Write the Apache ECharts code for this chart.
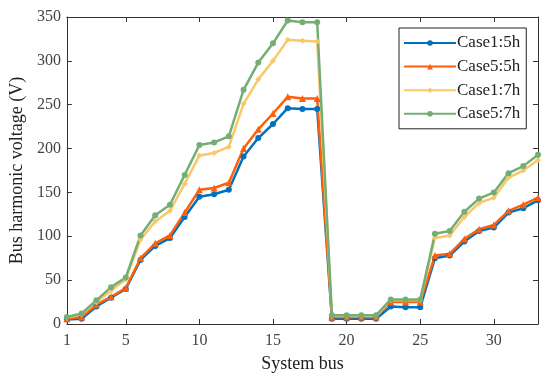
<!DOCTYPE html>
<html><head><meta charset="utf-8">
<script src="https://cdn.jsdelivr.net/npm/echarts@6/dist/echarts.min.js"></script>
<style>html,body{margin:0;padding:0;background:#fff}#c{width:550px;height:383px}</style>
</head><body><div id="c"></div>
<script>
const buses = [1,2,3,4,5,6,7,8,9,10,11,12,13,14,15,16,17,18,19,20,21,22,23,24,25,26,27,28,29,30,31,32,33];
const case1_5h = [5,6,20,30,40,73,89,98,122,145,148,153,191,212,228,246,245,245,6,6,6,6,20,19,19,75,78,94,106,110,127,132,141];
const case5_5h = [6,8,22,31,41,75,92,101,127,153,155,161,200,222,240,259,257,257,8,8,8,8,25,25,25,78,80,97,108,113,129,136,144];
const case1_7h = [7,11,25,38,51,96,117,129,160,192,195,202,251,279,300,324,323,322,9,9,9,9,27,27,27,98,101,122,138,144,167,175,187];
const case5_7h = [8,12,27,42,53,101,124,136,170,204,207,214,267,298,320,346,344,344,10,10,10,10,28,28,28,103,106,128,143,150,172,180,193];
const xTicks = [1,5,10,15,20,25,30];
const names = ['Case1:5h','Case5:5h','Case1:7h','Case5:7h'];

const font = 'Liberation Serif';
const colors = ['#0072BD','#FF5F0A','#F9C86A','#74AE74'];
const symbols = ['circle','triangle','diamond','circle'];
const all = [case1_5h, case5_5h, case1_7h, case5_7h];

const chart = echarts.init(document.getElementById('c'));
const series = all.map((vals,i)=>({
  name: names[i], type:'line', xAxisIndex:0, yAxisIndex:0,
  data: buses.map((b,j)=>[b, vals[j]]),
  symbol: symbols[i], symbolSize: i===1?7:6,
  lineStyle:{width:2.5, color:colors[i]},
  itemStyle:{color:colors[i]},
  showSymbol:true, animation:false
}));
chart.setOption({
  animation:false,
  grid:{left:63, right:12, top:17, bottom:59, show:false},
  legend:{
    orient:'vertical', left:399, top:28, width:126,
    data:names,
    itemWidth:52, itemHeight:7, itemGap:6.6,
    padding:[6.5,6,6.5,4],
    borderColor:'#222', borderWidth:1, backgroundColor:'#fff',
    textStyle:{fontFamily:font, fontSize:17, lineHeight:14, color:'#222', padding:[0,0,0,-4]}
  },
  xAxis:[{
    type:'value', min:1, max:33, position:'bottom',
    name:'System bus', nameLocation:'middle', nameGap:31,
    nameTextStyle:{fontFamily:font, fontSize:18, color:'#222'},
    axisLine:{show:true, lineStyle:{color:'#333', width:1}},
    axisTick:{show:true, inside:true, length:5, customValues:xTicks, lineStyle:{color:'#333'}},
    axisLabel:{customValues:xTicks, fontFamily:font, fontSize:16, color:'#444', margin:9},
    splitLine:{show:false}
  },{
    type:'value', min:1, max:33, position:'top',
    axisLine:{show:true, onZero:false, lineStyle:{color:'#333', width:1}},
    axisTick:{show:true, inside:true, length:5, customValues:xTicks, lineStyle:{color:'#333'}},
    axisLabel:{show:false}, splitLine:{show:false}
  }],
  yAxis:[{
    type:'value', min:0, max:350, interval:50, position:'left',
    name:'Bus harmonic voltage (V)', nameLocation:'middle', nameGap:36,
    nameTextStyle:{fontFamily:font, fontSize:18, color:'#222'},
    axisLine:{show:true, lineStyle:{color:'#333', width:1}},
    axisTick:{show:true, inside:true, length:5, lineStyle:{color:'#333'}},
    axisLabel:{fontFamily:font, fontSize:16, color:'#444', margin:6},
    splitLine:{show:false}
  },{
    type:'value', min:0, max:350, interval:50, position:'right',
    axisLine:{show:true, onZero:false, lineStyle:{color:'#333', width:1}},
    axisTick:{show:true, inside:true, length:5, lineStyle:{color:'#333'}},
    axisLabel:{show:false}, splitLine:{show:false}
  }],
  series: series
});
</script></body></html>
